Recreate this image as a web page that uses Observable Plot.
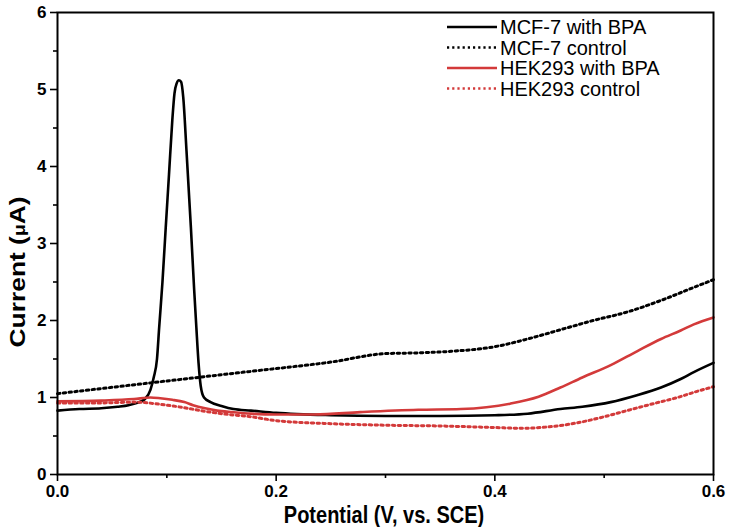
<!DOCTYPE html>
<html><head><meta charset="utf-8">
<script src="https://cdn.jsdelivr.net/npm/d3@7"></script>
<script src="https://cdn.jsdelivr.net/npm/@observablehq/plot@0.6"></script>
<style>
body{margin:0;background:#fff}
#chart{width:729px;height:527px}
#chart g[aria-label="x-axis tick label"] text,
#chart g[aria-label="y-axis tick label"] text{font-weight:bold !important;font-size:17px !important;fill:#000}
</style></head><body><div id="chart"></div>
<script>
// ---- data ----
const seriesNames = ["MCF-7 with BPA", "MCF-7 control", "HEK293 with BPA", "HEK293 control"];
const seriesColors = ["#000000", "#000000", "#d33a3a", "#d33a3a"];
const seriesDotted = [false, true, false, true];

const mcfBpaX = [0, 0.02, 0.04, 0.055, 0.065, 0.073, 0.08, 0.085, 0.088, 0.091, 0.093, 0.096, 0.099, 0.102, 0.105, 0.107, 0.109, 0.111, 0.113, 0.115, 0.118, 0.122, 0.125, 0.127, 0.129, 0.131, 0.134, 0.14, 0.15, 0.161, 0.177, 0.2, 0.25, 0.3, 0.35, 0.4, 0.43, 0.46, 0.48, 0.506, 0.53, 0.552, 0.57, 0.582, 0.6];
const mcfBpaY = [0.83, 0.85, 0.86, 0.88, 0.9, 0.93, 0.98, 1.1, 1.26, 1.5, 1.91, 2.5, 3.21, 3.9, 4.6, 4.95, 5.08, 5.12, 5.1, 4.9, 4.2, 3.21, 2.4, 1.91, 1.45, 1.15, 1.0, 0.94, 0.89, 0.85, 0.83, 0.8, 0.77, 0.76, 0.76, 0.77, 0.79, 0.85, 0.88, 0.94, 1.03, 1.13, 1.24, 1.33, 1.45];

const mcfCtrlX = [0, 0.085, 0.177, 0.25, 0.3, 0.33, 0.36, 0.4, 0.43, 0.46, 0.49, 0.521, 0.55, 0.582, 0.6];
const mcfCtrlY = [1.05, 1.19, 1.34, 1.46, 1.57, 1.58, 1.6, 1.66, 1.76, 1.88, 2.0, 2.11, 2.25, 2.43, 2.53];

const hekBpaX = [0, 0.04, 0.07, 0.085, 0.094, 0.105, 0.116, 0.124, 0.135, 0.146, 0.16, 0.177, 0.2, 0.235, 0.277, 0.33, 0.369, 0.414, 0.44, 0.46, 0.48, 0.506, 0.53, 0.552, 0.57, 0.582, 0.6];
const hekBpaY = [0.95, 0.96, 0.98, 1.0, 0.99, 0.97, 0.94, 0.9, 0.86, 0.83, 0.81, 0.79, 0.78, 0.78, 0.81, 0.84, 0.85, 0.92, 1.01, 1.13, 1.26, 1.42, 1.6, 1.76, 1.87, 1.95, 2.04];

const hekCtrlX = [0, 0.04, 0.07, 0.1, 0.115, 0.131, 0.15, 0.177, 0.2, 0.25, 0.3, 0.35, 0.4, 0.425, 0.45, 0.475, 0.5, 0.521, 0.545, 0.567, 0.585, 0.6];
const hekCtrlY = [0.93, 0.93, 0.94, 0.9, 0.87, 0.83, 0.79, 0.75, 0.7, 0.66, 0.64, 0.63, 0.61, 0.6, 0.62, 0.67, 0.75, 0.83, 0.92, 1.0, 1.08, 1.14];

const xTicks = [0, 0.2, 0.4, 0.6];
const xMinorTicks = [0.1, 0.3, 0.5];
const yTicks = [0, 1, 2, 3, 4, 5, 6];
const yMinorTicks = [0.5, 1.5, 2.5, 3.5, 4.5, 5.5];
const xTitle = "Potential (V, vs. SCE)";
const yTitleParts = ["Current (", "μ", "A)"];

// ---- build ----
const seriesXY = [[mcfBpaX, mcfBpaY], [mcfCtrlX, mcfCtrlY], [hekBpaX, hekBpaY], [hekCtrlX, hekCtrlY]];
const seriesRows = seriesXY.map(([xs, ys], k) => xs.map((x, i) => ({series: seriesNames[k], x, y: ys[i]})));

const font = '"Liberation Sans", Arial, sans-serif';
const lineMarks = seriesRows.map((rows, k) => Plot.line(rows, {
  x: "x", y: "y", stroke: seriesColors[k],
  strokeWidth: seriesDotted[k] ? 3 : 2.6,
  strokeDasharray: seriesDotted[k] ? "2.4,3.4" : null,
  curve: "monotone-x"
}));

const plot = Plot.plot({
  width: 729, height: 527,
  marginLeft: 57, marginRight: 16, marginTop: 12, marginBottom: 53,
  x: {domain: [0, 0.6]},
  y: {domain: [0, 6]},
  style: {fontFamily: font, fontSize: "16px", color: "#000", background: "#fff", overflow: "visible"},
  marks: [
    Plot.axisX(xTicks, {tickSize: 7, tickPadding: 3, strokeWidth: 1.6, tickFormat: d3.format(".1f"), label: null, fontSize: 17, fontWeight: "bold"}),
    Plot.axisX(xMinorTicks, {tickSize: 4, strokeWidth: 1.6, tickFormat: () => "", label: null}),
    Plot.axisY(yTicks, {tickSize: 7, tickPadding: 4, strokeWidth: 1.6, tickFormat: d3.format("d"), label: null, fontSize: 17, fontWeight: "bold"}),
    Plot.axisY(yMinorTicks, {tickSize: 4, strokeWidth: 1.6, tickFormat: () => "", label: null}),
    ...lineMarks,
    Plot.frame({stroke: "#000", strokeWidth: 2})
  ]
});

const svg = d3.select(plot);
svg.selectAll('[aria-label="x-axis tick label"], [aria-label="y-axis tick label"]')
  .attr("font-weight", "bold").attr("font-size", 17).attr("fill", "#000");

// axis titles
svg.append("text")
  .attr("transform", "translate(384,523) scale(1,1.15)")
  .attr("text-anchor", "middle")
  .attr("font-size", 20).attr("font-weight", "bold").attr("font-family", font)
  .attr("fill", "#000")
  .text(xTitle);
const yt = svg.append("text")
  .attr("transform", "translate(25,272) rotate(-90) scale(1.2,1)")
  .attr("text-anchor", "middle")
  .attr("font-size", 22).attr("font-weight", "bold").attr("font-family", font)
  .attr("fill", "#000");
yt.append("tspan").text(yTitleParts[0]);
yt.append("tspan").attr("font-size", 16).text(yTitleParts[1]);
yt.append("tspan").text(yTitleParts[2]);

// legend
const lg = svg.append("g").attr("font-family", font).attr("font-size", 20)
  .attr("font-weight", "normal").attr("text-anchor", "start");
seriesNames.forEach((name, k) => {
  const yy = 27 + k * 20.5;
  lg.append("line").attr("x1", 447).attr("x2", 497).attr("y1", yy).attr("y2", yy)
    .attr("stroke", seriesColors[k]).attr("stroke-width", 2.6)
    .attr("stroke-dasharray", seriesDotted[k] ? "2.2,3" : null);
  lg.append("text").attr("x", 500).attr("y", yy).attr("dy", "0.36em").attr("fill", "#000").text(name);
});

document.getElementById("chart").appendChild(plot);
</script>
</body></html>
